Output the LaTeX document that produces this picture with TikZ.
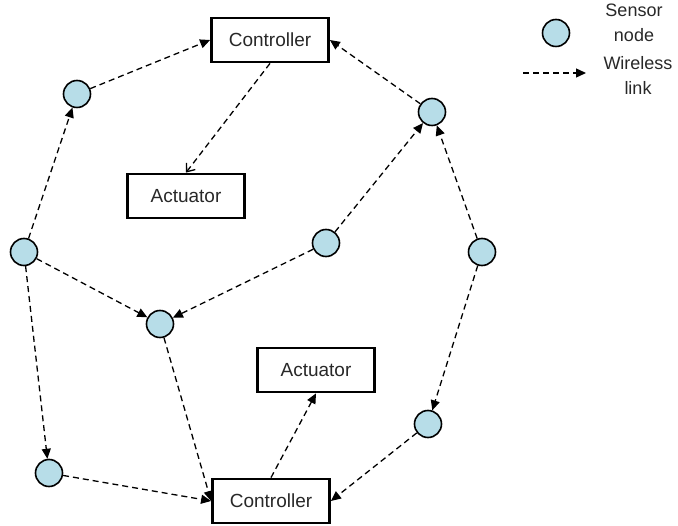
\documentclass[tikz,border=0pt]{standalone}
\usepackage{fontspec}
\setmainfont{Liberation Sans}
\usetikzlibrary{arrows.meta}

\definecolor{sensorblue}{RGB}{183,221,232}
\definecolor{textgray}{RGB}{40,40,40}

\begin{document}
\begin{tikzpicture}[
		x=1pt, y=-1pt,
		sensor/.style={circle, draw, line width=1.6pt, fill=sensorblue, minimum size=27pt, inner sep=0pt},
		device/.style={rectangle, draw, line width=2.8pt, minimum width=117pt, minimum height=44pt,
			text=textgray, font=\fontsize{19}{22}\selectfont},
		legendtext/.style={align=center, text=textgray, font=\fontsize{18}{25}\selectfont},
		link/.style={dashed, dash pattern=on 6pt off 4pt, line width=1.3pt, -{Triangle[length=10pt, width=9pt]}},
		cmd/.style={dashed, dash pattern=on 6pt off 4pt, line width=1.3pt, -{Straight Barb[length=7pt, width=11pt]}}
	]
  \useasboundingbox (0,0) rectangle (678,526);
  \node (ctrlA) [device] at (270, 40) {Controller};
  \node (actA) [device] at (186, 196) {Actuator};
  \node (actB) [device] at (316, 370) {Actuator};
  \node (ctrlB) [device] at (271, 501) {Controller};
  \node (s1) [sensor] at (77, 94) {};
  \node (s2) [sensor] at (432, 112) {};
  \node (s3) [sensor] at (24, 252) {};
  \node (s4) [sensor] at (326, 243) {};
  \node (s5) [sensor] at (482, 252) {};
  \node (s6) [sensor] at (160, 324) {};
  \node (s7) [sensor] at (428, 424) {};
  \node (s8) [sensor] at (49, 473) {};
  % legend
  \node (lgSensor) [sensor] at (556, 33) {};
  \node (lgSensorText) [legendtext] at (634, 23) {Sensor\\node};
  \coordinate (lgFrom) at (523, 73);
  \coordinate (lgTo) at (586, 73);
  \node (lgLinkText) [legendtext] at (638, 75) {Wireless\\link};
  \draw (lgFrom) edge [link] (lgTo);
  % links
  \draw (s1) edge [link] (ctrlA.west);
  \draw (s2) edge [link] (ctrlA.east);
  \draw (ctrlA.south) edge [cmd] (actA.north);
  \draw (s3) edge [link] (s1);
  \draw (s4) edge [link] (s2);
  \draw (s5) edge [link] (s2);
  \draw (s3) edge [link] (s6);
  \draw (s4) edge [link] (s6);
  \draw (s3) edge [link] (s8);
  \draw (s5) edge [link] (s7);
  \draw (s6) edge [link] (ctrlB.west);
  \draw (s8) edge [link] (ctrlB.west);
  \draw (s7) edge [link] (ctrlB.east);
  \draw (ctrlB.north) edge [link] (actB.south);
\end{tikzpicture}
\end{document}
